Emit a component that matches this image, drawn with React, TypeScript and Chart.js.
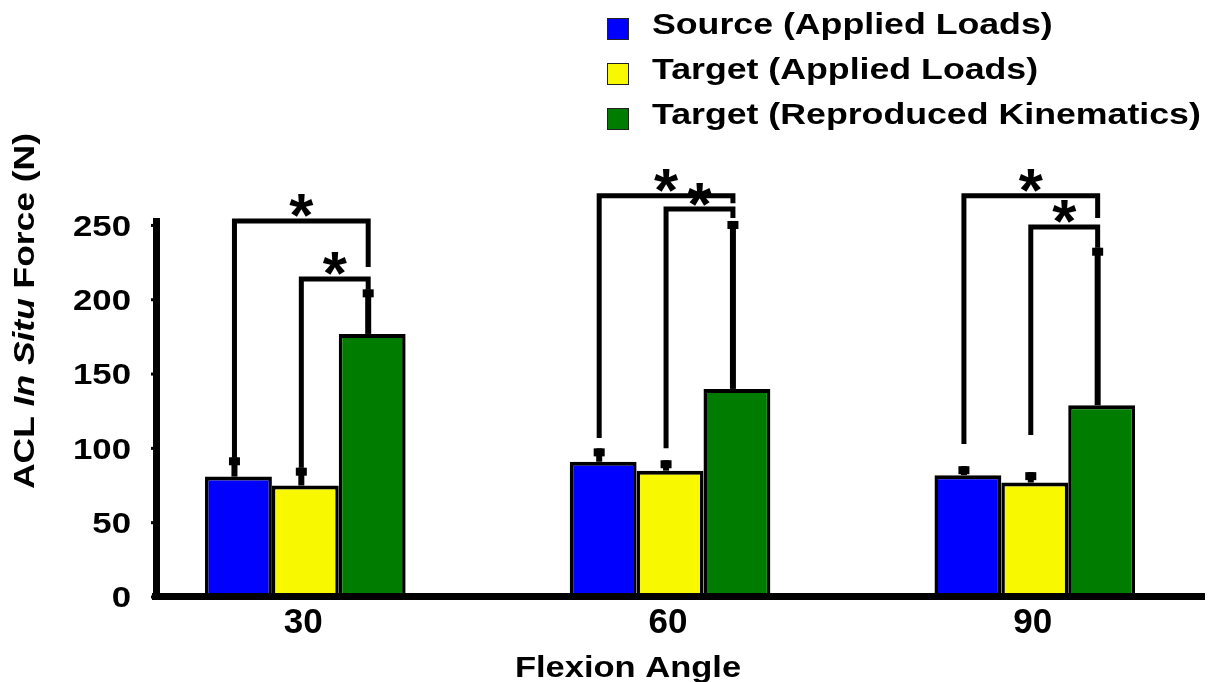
import { useEffect, useRef } from 'react';
import { Chart, registerables } from 'chart.js';

Chart.register(...registerables);

// Flexion angles (deg) used as x positions of the bar groups
const flexionAngles = [30, 60, 90];
const seriesNames = ['Source (Applied Loads)', 'Target (Applied Loads)', 'Target (Reproduced Kinematics)'];
const seriesColors = ['#0000FF', '#F8F800', '#007D00'];

// ACL in situ force, mean and standard deviation (N)
const sourceLoadsMean = [81, 91, 82];
const sourceLoadsSD = [13, 9, 6];
const targetLoadsMean = [75, 85, 77];
const targetLoadsSD = [12, 7, 7];
const targetKinematicsMean = [177, 140, 129];
const targetKinematicsSD = [30, 113, 106];

const yTickValues = [0, 50, 100, 150, 200, 250];

// Significance brackets: angle group, left/right series, bar level and leg ends (N)
const bracketGroup = [0, 0, 1, 1, 2, 2];
const bracketFrom = [0, 1, 0, 1, 0, 1];
const bracketTo = [2, 2, 2, 2, 2, 2];
const bracketLevel = [253, 214, 270, 261, 270, 249];
const bracketLeftEnd = [94, 87, 107, 100, 103, 109];
const bracketRightEnd = [222, 207, 265, 255, 255, 235];

const means = [sourceLoadsMean, targetLoadsMean, targetKinematicsMean];
const sds = [sourceLoadsSD, targetLoadsSD, targetKinematicsSD];

const FONT = '"Liberation Sans", Arial, Helvetica, sans-serif';

type Part = { text: string; italic?: boolean };

function drawText(
  ctx: CanvasRenderingContext2D,
  parts: Part[],
  x: number,
  y: number,
  size: number,
  stretch: number,
  align: 'left' | 'center' | 'right'
) {
  ctx.save();
  ctx.translate(x, y);
  ctx.scale(stretch, 1);
  ctx.textAlign = 'left';
  ctx.textBaseline = 'alphabetic';
  ctx.fillStyle = '#000';
  const fontOf = (p: Part) => `${p.italic ? 'italic ' : ''}bold ${size}px ${FONT}`;
  const widths = parts.map((p) => {
    ctx.font = fontOf(p);
    return ctx.measureText(p.text).width;
  });
  const total = widths.reduce((a, b) => a + b, 0);
  let cx = align === 'left' ? 0 : align === 'center' ? -total / 2 : -total;
  parts.forEach((p, i) => {
    ctx.font = fontOf(p);
    ctx.fillText(p.text, cx, 0);
    cx += widths[i];
  });
  ctx.restore();
}

const ERR_SHIFT = -4;

const decorations = {
  id: 'decorations',
  beforeDraw(chart: any) {
    const ctx = chart.ctx as CanvasRenderingContext2D;
    ctx.save();
    ctx.fillStyle = '#fff';
    ctx.fillRect(0, 0, chart.width, chart.height);
    ctx.restore();
  },
  afterDatasetsDraw(chart: any) {
    const ctx = chart.ctx as CanvasRenderingContext2D;
    const ys = chart.scales.y;
    const area = chart.chartArea;
    const metas = [0, 1, 2].map((i) => chart.getDatasetMeta(i));
    const errX = (s: number, g: number) => metas[s].data[g].x + ERR_SHIFT;

    ctx.save();
    ctx.fillStyle = '#000';
    ctx.strokeStyle = '#000';

    // axes
    ctx.fillRect(area.left - 4, area.top, 7, area.bottom + 3 - area.top);
    ctx.fillRect(area.left - 5, area.bottom - 4, area.right - area.left + 5, 7);
    ys.ticks.forEach((t: any) => {
      const py = ys.getPixelForValue(t.value);
      ctx.fillRect(area.left - 6, py - 1.5, 3, 3);
    });

    // error bars (upper half)
    for (let s = 0; s < 3; s++) {
      for (let g = 0; g < flexionAngles.length; g++) {
        const x = errX(s, g);
        const base = ys.getPixelForValue(means[s][g]);
        const top = ys.getPixelForValue(means[s][g] + sds[s][g]);
        ctx.fillRect(x - 3, top, 6, base - top);
        ctx.fillRect(x - 5.5, top, 11, 8);
      }
    }

    // significance brackets
    ctx.lineWidth = 5;
    ctx.lineJoin = 'miter';
    ctx.lineCap = 'butt';
    for (let b = 0; b < bracketGroup.length; b++) {
      const g = bracketGroup[b];
      const xl = errX(bracketFrom[b], g);
      const xr = errX(bracketTo[b], g);
      const yl = ys.getPixelForValue(bracketLevel[b]);
      ctx.beginPath();
      ctx.moveTo(xl, ys.getPixelForValue(bracketLeftEnd[b]));
      ctx.lineTo(xl, yl);
      ctx.lineTo(xr, yl);
      ctx.lineTo(xr, ys.getPixelForValue(bracketRightEnd[b]));
      ctx.stroke();

      ctx.font = `bold 62px ${FONT}`;
      ctx.textAlign = 'center';
      ctx.textBaseline = 'alphabetic';
      const m = ctx.measureText('*');
      const bottom = yl - 3.5;
      ctx.fillText('*', (xl + xr) / 2, bottom - m.actualBoundingBoxDescent);
    }
    ctx.restore();
  },
  afterDraw(chart: any) {
    const ctx = chart.ctx as CanvasRenderingContext2D;
    const xs = chart.scales.x;
    const ys = chart.scales.y;

    // y tick labels
    ys.ticks.forEach((t: any) => {
      drawText(ctx, [{ text: String(t.value) }], 131, ys.getPixelForValue(t.value) + 10.4, 29, 1.2, 'right');
    });
    // x tick labels
    xs.ticks.forEach((t: any) => {
      drawText(ctx, [{ text: String(t.value) }], xs.getPixelForValue(t.value) - 2, 633, 35, 1.0, 'center');
    });

    // axis titles
    drawText(ctx, [{ text: 'Flexion Angle' }], 628, 677, 30, 1.15, 'center');
    ctx.save();
    ctx.translate(33.5, 311);
    ctx.rotate(-Math.PI / 2);
    drawText(
      ctx,
      [{ text: 'ACL ' }, { text: 'In Situ', italic: true }, { text: ' Force (N)' }],
      0,
      0,
      30,
      1.18,
      'center'
    );
    ctx.restore();

    // legend
    seriesNames.forEach((name, i) => {
      const top = 18 + i * 45;
      ctx.save();
      ctx.fillStyle = seriesColors[i];
      ctx.fillRect(607, top, 22, 22);
      ctx.strokeStyle = '#222';
      ctx.lineWidth = 1;
      ctx.strokeRect(607.5, top + 0.5, 21, 21);
      ctx.restore();
      drawText(ctx, [{ text: name }], 652, 34 + i * 45, 30, 1.19, 'left');
    });
  },
};

export default function App() {
  const canvasRef = useRef<HTMLCanvasElement | null>(null);

  useEffect(() => {
    const canvas = canvasRef.current;
    if (!canvas) return;
    const chart = new Chart(canvas, {
      type: 'bar',
      data: {
        datasets: seriesNames.map((name, s) => ({
          label: name,
          data: flexionAngles.map((a, g) => ({ x: a, y: means[s][g] })),
          backgroundColor: seriesColors[s],
          borderColor: '#000',
          borderWidth: { top: 4, left: 3.5, right: 3.5, bottom: 0 },
          borderSkipped: 'start',
          categoryPercentage: 0.55,
          barPercentage: 1.0,
        })),
      } as any,
      options: {
        responsive: false,
        animation: false,
        devicePixelRatio: 1,
        layout: { padding: { left: 157, right: 7, top: 218, bottom: 85 } },
        plugins: { legend: { display: false }, tooltip: { enabled: false } },
        scales: {
          x: {
            type: 'linear',
            display: false,
            offset: false,
            min: 17.8,
            max: 104,
            afterBuildTicks: (scale: any) => {
              scale.ticks = flexionAngles.map((v) => ({ value: v }));
            },
          },
          y: {
            display: false,
            min: 0,
            max: 255,
            afterBuildTicks: (scale: any) => {
              scale.ticks = yTickValues.map((v) => ({ value: v }));
            },
          },
        },
      } as any,
      plugins: [decorations],
    });
    return () => chart.destroy();
  }, []);

  return (
    <div style={{ position: 'fixed', left: 0, top: 0, width: 1212, height: 682 }}>
      <canvas ref={canvasRef} width={1212} height={682} style={{ display: 'block' }} />
    </div>
  );
}
